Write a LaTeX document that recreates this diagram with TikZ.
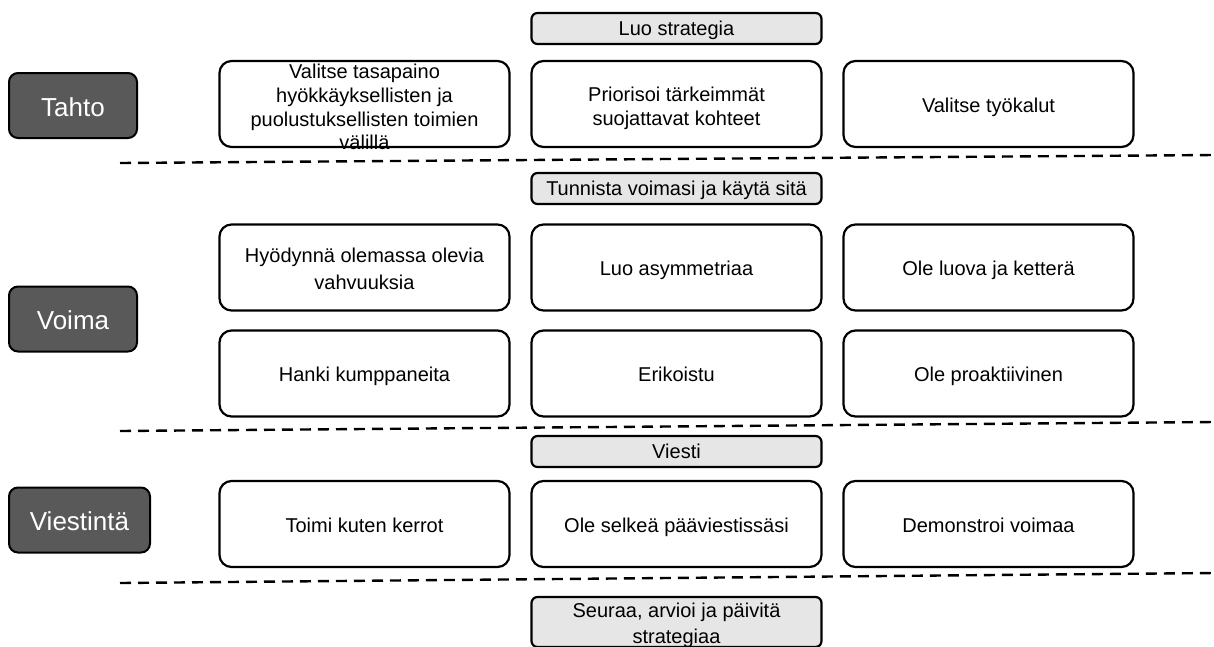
\documentclass[tikz,border=0pt]{standalone}
\usepackage{fontspec}
\setmainfont{Liberation Sans}
\definecolor{lblgray}{HTML}{595959}
\definecolor{hdrgray}{HTML}{E6E6E6}
\begin{document}
\begin{tikzpicture}[x=1pt,y=-1pt,
  cell/.style={draw=black, line width=2.2pt, rounded corners=12pt, fill=white,
    minimum width=290pt, minimum height=86pt, align=center,
    font=\fontsize{20}{23.7}\selectfont, inner sep=1pt},
  one/.style={cell, text height=16pt, text depth=0pt},
  txt/.style={align=center, inner sep=0pt, font=\fontsize{20}{23.7}\selectfont},
  hdr/.style={draw=black, line width=2.2pt, rounded corners=6pt, fill=hdrgray,
    minimum width=290pt, minimum height=31pt, align=center,
    font=\fontsize{20}{26}\selectfont, inner sep=1pt},
  hdrone/.style={hdr, text height=14pt, text depth=0pt},
  lbl/.style={draw=black, line width=2pt, rounded corners=9pt, fill=lblgray,
    text=white, minimum height=65pt, font=\fontsize{26}{30}\selectfont,
    text height=21pt, text depth=0pt},
  sep/.style={line width=2.4pt, dash pattern=on 11pt off 7pt}]
\useasboundingbox (0,0) rectangle (1214,646);

% left labels
\node[lbl, minimum width=128pt] (tahto) at (73,105.5) {Tahto};
\node[lbl, minimum width=128pt] (voima) at (73,319) {Voima};
\node[lbl, minimum width=141pt] (viestinta) at (79.5,520) {Viestintä};

% headers
\node[hdrone] (luo) at (676.5,28.5) {Luo strategia};
\node[hdrone] (tunnista) at (676.5,188.5) {Tunnista voimasi ja käytä sitä};
\node[hdrone] (viesti) at (676.5,451.5) {Viesti};
\node[hdr, minimum height=50pt] (seuraa) at (676.5,622) {};
\node[txt, font=\fontsize{20}{26}\selectfont] (seuraatxt) at (676.5,625) {Seuraa, arvioi ja päivitä\\strategiaa};

% Tahto row
\node[cell] (t1) at (364.5,104) {};
\node[txt] (t1txt) at (364.5,107) {Valitse tasapaino\\hyökkäyksellisten ja\\puolustuksellisten toimien\\välillä};
\node[cell] (t2) at (676.5,104) {};
\node[txt] (t2txt) at (676.5,108) {Priorisoi tärkeimmät\\suojattavat kohteet};
\node[one] (t3) at (988.5,104) {Valitse työkalut};

% Voima rows
\node[cell] (v1) at (364.5,267.5) {};
\node[txt, font=\fontsize{20}{26.7}\selectfont] (v1txt) at (364.5,269) {Hyödynnä olemassa olevia\\vahvuuksia};
\node[one] (v2) at (676.5,267.5) {Luo asymmetriaa};
\node[one] (v3) at (988.5,267.5) {Ole luova ja ketterä};
\node[one] (v4) at (364.5,373.5) {Hanki kumppaneita};
\node[one] (v5) at (676.5,373.5) {Erikoistu};
\node[one] (v6) at (988.5,373.5) {Ole proaktiivinen};

% Viestintä row
\node[one] (c1) at (364.5,524) {Toimi kuten kerrot};
\node[one] (c2) at (676.5,524) {Ole selkeä pääviestissäsi};
\node[one] (c3) at (988.5,524) {Demonstroi voimaa};

% separators
\coordinate (d1a) at (120,163);
\coordinate (d1b) at (1214,155);
\coordinate (d2a) at (120,431);
\coordinate (d2b) at (1214,422);
\coordinate (d3a) at (120,583);
\coordinate (d3b) at (1214,573);
\draw[sep] (d1a) -- (d1b);
\draw[sep] (d2a) -- (d2b);
\draw[sep] (d3a) -- (d3b);
\end{tikzpicture}
\end{document}
